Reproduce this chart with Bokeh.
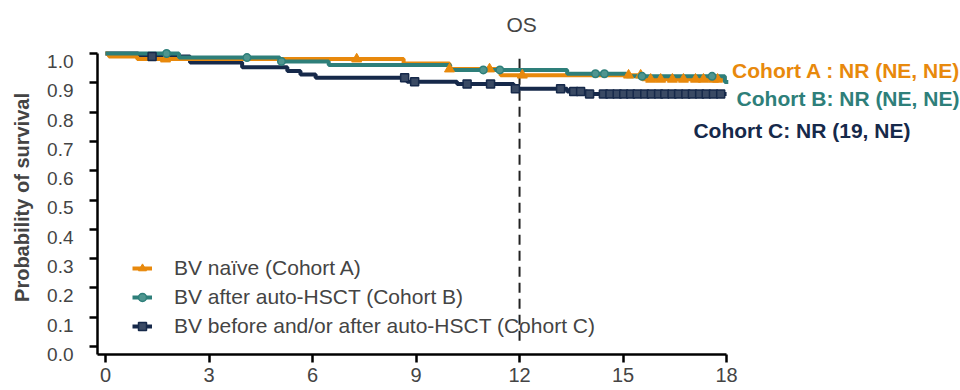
import numpy as np
from bokeh.plotting import figure
from bokeh.models import (Range1d, LinearAxis, FixedTicker, PrintfTickFormatter,
                          Legend, LegendItem, ColumnDataSource)
from bokeh.core.properties import value
from bokeh.embed import file_html
from bokeh.resources import INLINE

# ---- Kaplan-Meier overall survival, months on study ----
# Cohort A: BV naive
months_a = [0.0, 0.1, 0.92, 8.64, 9.97, 11.45, 15.55, 18.0]
surv_a = [1.0, 0.99, 0.981, 0.966, 0.947, 0.926, 0.912, 0.912]
censor_a = [1.74, 7.28, 9.97, 11.13, 12.08, 15.16, 15.51, 15.80, 16.09,
            16.43, 16.75, 17.10, 17.33, 17.62, 17.74]

# Cohort B: BV after auto-HSCT
months_b = [0.0, 2.13, 5.05, 6.47, 9.99, 13.38, 15.10, 17.95, 18.05]
surv_b = [1.0, 0.986, 0.973, 0.961, 0.944, 0.931, 0.922, 0.903, 0.903]
censor_b = [1.77, 4.10, 5.10, 10.95, 11.43, 14.20, 14.46, 15.55, 17.58]

# Cohort C: BV before and/or after auto-HSCT
months_c = [0.0, 0.95, 2.45, 3.96, 5.27, 5.65, 6.09, 8.74, 10.19, 11.83,
            13.38, 13.96, 18.0]
surv_c = [1.0, 0.99, 0.969, 0.953, 0.940, 0.928, 0.917, 0.904, 0.896, 0.880,
          0.870, 0.862, 0.862]
censor_c = [1.35, 8.67, 8.96, 10.48, 11.16, 11.88, 13.19, 13.57, 13.77, 14.03,
            14.43, 14.62, 14.83, 15.02, 15.22, 15.41, 15.63, 15.82, 16.03,
            16.21, 16.42, 16.61, 16.82, 17.01, 17.22, 17.41, 17.62, 17.83]

series_labels = ["BV naïve (Cohort A)", "BV after auto-HSCT (Cohort B)",
                 "BV before and/or after auto-HSCT (Cohort C)"]
median_labels = ["Cohort A : NR (NE, NE)", "Cohort B: NR (NE, NE)",
                 "Cohort C: NR (19, NE)"]

x_ticks = [0, 3, 6, 9, 12, 15, 18]
y_ticks = [0.0, 0.1, 0.2, 0.3, 0.4, 0.5, 0.6, 0.7, 0.8, 0.9, 1.0]
landmark_month = 12

FONT = "Liberation Sans"
ORANGE = "#E8890C"
TEAL = "#2E7F7A"
NAVY = "#16294A"


def surv_at(times, surv, t):
    idx = np.searchsorted(np.asarray(times), np.asarray(t), side="right") - 1
    return list(np.asarray(surv)[idx])


Y0, Y1 = -0.0273, 1.0444
LABEL_SHIFT = 0.027

p = figure(width=960, height=390,
           x_range=Range1d(-0.232, 24.78), y_range=Range1d(Y0, Y1),
           output_backend="svg", toolbar_location=None,
           min_border_left=97, min_border_right=0,
           min_border_top=40, min_border_bottom=36)
p.outline_line_color = None
p.xgrid.visible = False
p.ygrid.visible = False
p.background_fill_color = "white"

# title
p.title.text = "OS"
p.title.text_font = FONT
p.title.text_font_size = "21px"
p.title.text_font_style = "normal"
p.title.align = "left"
p.title.offset = 409

# x axis
xa = p.xaxis[0]
xa.ticker = FixedTicker(ticks=x_ticks)
xa.bounds = (-0.232, 18)
xa.axis_line_width = 2.5
xa.major_tick_line_width = 2.5
xa.major_tick_out = 8
xa.major_tick_in = 0
xa.minor_tick_line_color = None
xa.major_label_text_font = FONT
xa.major_label_text_font_size = "20px"
xa.major_label_standoff = 5

# y axis line and ticks
ya = p.yaxis[0]
ya.ticker = FixedTicker(ticks=y_ticks)
ya.formatter = PrintfTickFormatter(format="")
ya.bounds = (Y0, 1.0)
ya.axis_line_width = 2.5
ya.major_tick_line_width = 2.5
ya.major_tick_out = 8
ya.major_tick_in = 0
ya.minor_tick_line_color = None
ya.major_label_standoff = 0

# y tick labels, hanging just below their ticks
p.extra_y_ranges = {"labels": Range1d(Y0 + LABEL_SHIFT, Y1 + LABEL_SHIFT)}
lab = LinearAxis(y_range_name="labels", ticker=FixedTicker(ticks=y_ticks),
                 formatter=PrintfTickFormatter(format="%.1f"))
lab.axis_line_color = None
lab.major_tick_line_color = None
lab.major_tick_out = 0
lab.major_tick_in = 0
lab.minor_tick_line_color = None
lab.major_label_text_font = FONT
lab.major_label_text_font_size = "19px"
lab.major_label_standoff = 16
lab.axis_label = "Probability of survival"
lab.axis_label_text_font = FONT
lab.axis_label_text_font_size = "20px"
lab.axis_label_text_font_style = "bold"
lab.axis_label_standoff = 11
p.add_layout(lab, "left")

# landmark at 12 months
p.segment(x0=[landmark_month], y0=[0.02], x1=[landmark_month], y1=[1.0],
          line_color="#222222", line_width=2, line_dash="10 6")

# survival curves
ln_c = p.step(months_c, surv_c, mode="after", line_color=NAVY, line_width=4)
ln_a = p.step(months_a, surv_a, mode="after", line_color=ORANGE, line_width=4)
ln_b = p.step(months_b, surv_b, mode="after", line_color=TEAL, line_width=4)

mk_c = p.scatter(censor_c, surv_at(months_c, surv_c, censor_c), marker="square",
                 size=8, line_color=NAVY, line_width=1.5, fill_color="#3a4a64")
mk_a = p.scatter(censor_a, surv_at(months_a, surv_a, censor_a), marker="triangle",
                 size=10, line_color=ORANGE, line_width=1, fill_color=ORANGE)
mk_b = p.scatter(censor_b, surv_at(months_b, surv_b, censor_b), marker="circle",
                 size=7.5, line_color=TEAL, line_width=1.5, fill_color="#4f958f")

# median OS annotations
ann = ColumnDataSource(dict(x=[18.16, 18.29, 17.04], y=[0.942, 0.845, 0.737],
                            text=median_labels, color=[ORANGE, TEAL, NAVY]))
p.text(x="x", y="y", text="text", text_color="color", source=ann,
       text_font=value(FONT), text_font_size="21px", text_font_style="bold",
       text_baseline="middle", text_align="left")

legend = Legend(items=[
    LegendItem(label=series_labels[0], renderers=[ln_a, mk_a]),
    LegendItem(label=series_labels[1], renderers=[ln_b, mk_b]),
    LegendItem(label=series_labels[2], renderers=[ln_c, mk_c]),
], location=(35, 16))
legend.padding = 0
legend.margin = 0
legend.spacing = 5
legend.glyph_width = 20
legend.glyph_height = 24
legend.label_height = 24
legend.label_standoff = 22
legend.label_text_font = FONT
legend.label_text_font_size = "21px"
legend.border_line_color = None
legend.background_fill_alpha = 0
p.add_layout(legend)

open("out.html", "w").write(file_html(p, INLINE))
